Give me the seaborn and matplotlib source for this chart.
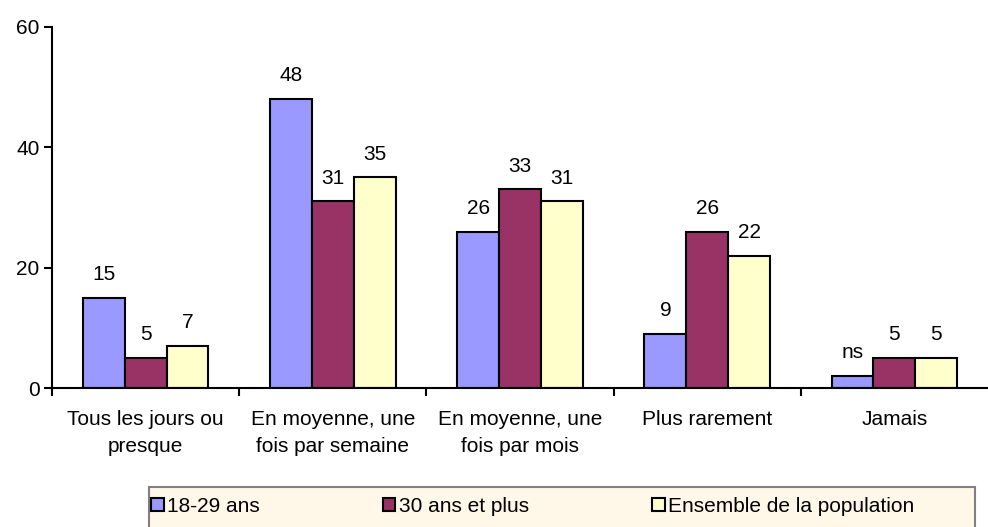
import pandas as pd
import matplotlib.pyplot as plt
import seaborn as sns
from matplotlib.patches import Rectangle

# Data
categories = ["Tous les jours ou\npresque", "En moyenne, une\nfois par semaine",
              "En moyenne, une\nfois par mois", "Plus rarement", "Jamais"]
jeunes = [15, 48, 26, 9, 2]          # 18-29 ans ("ns" for Jamais)
plus30 = [5, 31, 33, 26, 5]
ensemble = [7, 35, 31, 22, 5]
series = ["18-29 ans", "30 ans et plus", "Ensemble de la population"]
labels_jeunes = ["15", "48", "26", "9", "ns"]
colors = ["#9999FF", "#993366", "#FFFFCC"]

df = pd.DataFrame({
    "cat": categories * 3,
    "serie": [series[0]] * 5 + [series[1]] * 5 + [series[2]] * 5,
    "val": jeunes + plus30 + ensemble,
})

sns.set_style("ticks")
plt.rcParams["font.family"] = ["Liberation Sans", "DejaVu Sans"]
plt.rcParams["text.color"] = "black"
plt.rcParams["xtick.color"] = "black"
plt.rcParams["ytick.color"] = "black"

fs = 15
fig = plt.figure(figsize=(9.88, 5.27), dpi=100)
ax = fig.add_axes([52 / 988, 1 - 388 / 527, 1 - 52 / 988, (388 - 27) / 527])

sns.barplot(data=df, x="cat", y="val", hue="serie", palette=colors,
            width=0.67, gap=0, edgecolor="black", linewidth=1.5,
            saturation=1, legend=False, ax=ax)

# value labels
for cont, vals in zip(ax.containers, [labels_jeunes, plus30, ensemble]):
    ax.bar_label(cont, labels=[str(v) for v in vals], padding=10, fontsize=fs)

ax.set_ylim(0, 60)
ax.set_xlim(-0.5, 4.5)
ax.set_yticks([0, 20, 40, 60])
ax.set_xlabel("")
ax.set_ylabel("")
ax.tick_params(axis="y", labelsize=fs, length=6, width=1.5, pad=3)
ax.tick_params(axis="x", which="major", labelsize=fs, length=0, pad=16)
ax.set_xticks([-0.5, 0.5, 1.5, 2.5, 3.5], minor=True)
ax.tick_params(axis="x", which="minor", length=6, width=1.5)
for lab in ax.get_xticklabels():
    lab.set_linespacing(1.55)
sns.despine(ax=ax)
for s in ["left", "bottom"]:
    ax.spines[s].set_linewidth(1.5)
    ax.spines[s].set_color("black")

# legend box
fig.patches.append(Rectangle((149 / 988, -0.02), 826 / 988, 40 / 527 + 0.02,
                             transform=fig.transFigure, facecolor="#FFF8E8",
                             edgecolor="#808080", linewidth=1.5, zorder=0))
handles = [Rectangle((0, 0), 1, 1, facecolor=c, edgecolor="black", linewidth=1.5)
           for c in colors]
fig.legend(handles, series, loc="center", ncol=3, mode="expand", frameon=False,
           bbox_to_anchor=(151 / 988, 0, (914 - 151) / 988, 2 * 21 / 527),
           fontsize=fs, handlelength=0.6, handleheight=0.6, handletextpad=0.15,
           borderpad=0, borderaxespad=0)

fig.savefig("out.png", dpi=100)
